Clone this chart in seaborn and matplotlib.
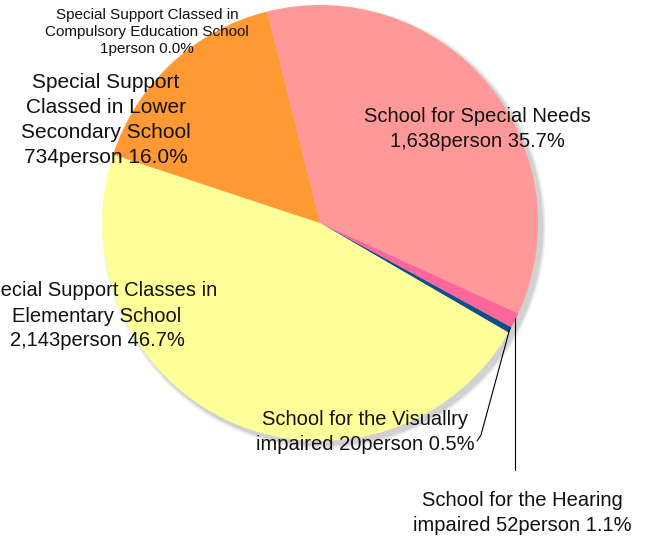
import matplotlib.pyplot as plt
from matplotlib.patches import Circle
import seaborn as sns

# data, clockwise from the top
labels = ['School for Special Needs', 'School for the Hearing\nimpaired',
          'School for the Visuallry\nimpaired', 'Special Support Classes in\nElementary School',
          'Special Support\nClassed in Lower\nSecondary School',
          'Special Support Classed in\nCompulsory Education School\n']
persons = [1638, 52, 20, 2143, 734, 1]
pcts = ['35.7%', '1.1%', '0.5%', '46.7%', '16.0%', '0.0%']
colors = ['#FF9999', '#FF6699', '#0F4E8C', '#FFFF99', '#FF9933', '#FF9933']

sns.set_theme(style='white')
plt.rcParams['font.family'] = ['Liberation Sans', 'DejaVu Sans']

fig = plt.figure(figsize=(6.67, 5.41), dpi=100)
ax = fig.add_axes([0, 0, 1, 1])

H = 541
cx, cy, r = 320, H - 223, 218

# soft shadow
for i, a in enumerate([0.05, 0.06, 0.08, 0.1]):
    ax.add_patch(Circle((cx + 4, cy - 4), r + 4 - i, color='#555555', alpha=a, lw=0, zorder=0))

ax.pie(persons, colors=colors, startangle=104, counterclock=False,
       center=(cx, cy), radius=r, frame=True,
       wedgeprops=dict(linewidth=0))

def txt(s, x, y, size, ls=1.4):
    ax.text(x, H - y, s, ha='center', va='center', fontsize=size,
            color='#111111', linespacing=ls, zorder=5)

fmt = lambda v: f'{v:,}person'
txt(labels[0] + '\n' + fmt(persons[0]) + ' ' + pcts[0], 477, 129, 14.5)
txt(labels[1] + ' ' + fmt(persons[1]) + ' ' + pcts[1], 522, 513, 14.5)
txt(labels[2] + ' ' + fmt(persons[2]) + ' ' + pcts[2], 365, 432, 14.5)
txt(labels[3] + '\n' + fmt(persons[3]) + ' ' + pcts[3], 97, 316, 14.5)
txt(labels[4] + '\n' + fmt(persons[4]) + ' ' + pcts[4], 106, 120, 15)
txt(labels[5] + fmt(persons[5]) + ' ' + pcts[5], 147, 32, 11, 1.3)

# leader lines
ax.plot([515, 515], [H - 318, H - 470], color='black', lw=0.8, zorder=6)
ax.plot([510, 481, 477], [H - 328, H - 435, H - 441], color='black', lw=0.8, zorder=6)

ax.set_xlim(0, 667)
ax.set_ylim(0, H)
ax.axis('off')
fig.savefig('out.png', dpi=100)
